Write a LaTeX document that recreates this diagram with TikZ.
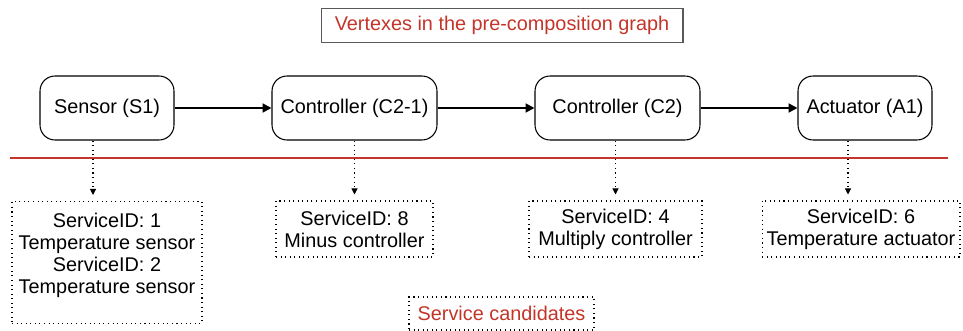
\documentclass[tikz,border=0pt]{standalone}
\usepackage{fontspec}
\setmainfont{Liberation Sans}
\usetikzlibrary{arrows.meta}
\definecolor{bandred}{RGB}{196,52,40}

\begin{document}
\begin{tikzpicture}[x=0.02cm, y=-0.02cm,
  every node/.style={font=\fontsize{11.3}{12.5}\selectfont, inner sep=0pt},
  vertex/.style={draw, line width=0.6pt, rounded corners=0.3cm, minimum height=1.28cm},
  cand/.style={draw, dotted, line width=0.6pt, align=center, minimum height=1.12cm},
  caption/.style={text=bandred, minimum height=0.68cm},
  flow/.style={line width=1.1pt, -{Triangle[length=5pt,width=5pt]}},
  pick/.style={dotted, line width=0.6pt, -{Triangle[length=3.5pt,width=3.5pt]}, shorten >=6*0.02cm}]
\useasboundingbox (0,0) rectangle (963,331);
\node[caption, draw=black!65, line width=0.6pt, minimum width=7.24cm] (title) at (502,25.5) {Vertexes in the pre-composition graph};
\node[vertex, minimum width=2.68cm] (s1) at (107,108) {Sensor (S1)};
\node[vertex, minimum width=3.30cm] (c1) at (354.5,108) {Controller (C2-1)};
\node[vertex, minimum width=3.30cm] (c2) at (617.5,108) {Controller (C2)};
\node[vertex, minimum width=2.68cm] (a1) at (865,108) {Actuator (A1)};
\draw[flow] (s1) -- (c1);
\draw[flow] (c1) -- (c2);
\draw[flow] (c2) -- (a1);
\draw[bandred, line width=1.4pt] (10,158) -- (948,158);
\node[cand, anchor=north, minimum width=3.8cm, text depth=0.38cm, inner ysep=6.4pt] (k1) at (107,201) {ServiceID: 1\\Temperature sensor\\ServiceID: 2\\Temperature sensor};
\node[cand, minimum width=3.14cm] (k2) at (354.5,229) {ServiceID: 8\\Minus controller};
\node[cand, minimum width=3.46cm] (k3) at (615.5,229) {ServiceID: 4\\Multiply controller};
\node[cand, minimum width=3.96cm] (k4) at (861,229) {ServiceID: 6\\Temperature actuator};
\node[caption, cand, minimum height=0.66cm, minimum width=3.7cm] (cands) at (501.5,313.5) {Service candidates};
\draw[pick] ([xshift=-0.28cm]s1.south) -- ([xshift=-0.28cm]k1.north);
\draw[pick] (c1.south) -- (k2.north -| c1.south);
\draw[pick] ([xshift=-0.04cm]c2.south) -- ([xshift=-0.04cm]c2.south |- k3.north);
\draw[pick] ([xshift=-0.34cm]a1.south) -- ([xshift=-0.34cm]a1.south |- k4.north);
\end{tikzpicture}
\end{document}
